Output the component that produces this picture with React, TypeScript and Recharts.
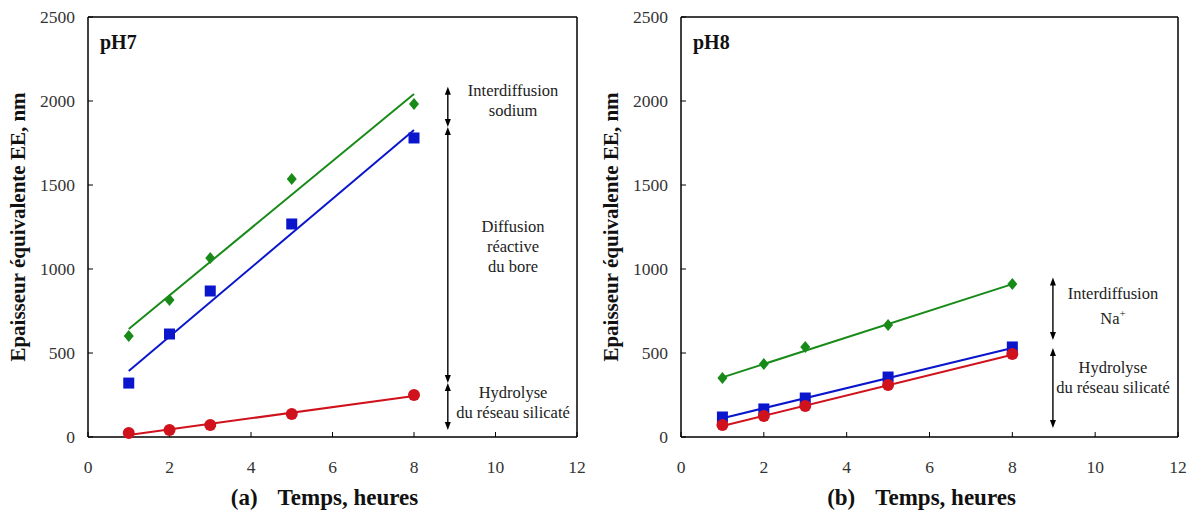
import { ComposedChart, Scatter, XAxis, YAxis, ReferenceLine } from "recharts";

// temps (heures)
const hours = [1, 2, 3, 5, 8];
const fitHours = [1, 8];

// pH7 — épaisseurs équivalentes (nm)
const ph7Na = [601, 815, 1065, 1536, 1982];
const ph7B = [321, 613, 869, 1268, 1780];
const ph7Si = [24, 42, 71, 137, 250];
const ph7FitNa = [643, 2042];
const ph7FitB = [393, 1827];
const ph7FitSi = [12, 244];

// pH8
const ph8Na = [351, 435, 536, 667, 911];
const ph8B = [119, 167, 232, 357, 536];
const ph8Si = [71, 125, 185, 310, 494];
const ph8FitNa = [355, 910];
const ph8FitB = [112, 530];
const ph8FitSi = [66, 490];

const xTicks = [0, 2, 4, 6, 8, 10, 12];
const yTicks = [0, 500, 1000, 1500, 2000, 2500];

// annotation arrows (x, top value, bottom value)
const ph7Arrows = [
  [8.83, 2085, 1845],
  [8.83, 1845, 321],
  [8.83, 321, 42],
];
const ph8Arrows = [
  [8.98, 950, 577],
  [8.98, 530, 54],
];

// annotation texts
const ph7Notes = [
  { x: 10.43, y: 2060, lines: ["Interdiffusion", "sodium"] },
  { x: 10.43, y: 1250, lines: ["Diffusion", "réactive", "du bore"] },
  { x: 10.43, y: 262, lines: ["Hydrolyse", "du réseau silicaté"] },
];
const ph8Notes = [
  { x: 10.43, y: 851, lines: ["Interdiffusion", "Na+"] },
  { x: 10.43, y: 410, lines: ["Hydrolyse", "du réseau silicaté"] },
];

const GREEN = "#188a18";
const BLUE = "#0a16cc";
const RED = "#d0121c";
const FONT = "'Liberation Serif', 'DejaVu Serif', serif";

const pts = (xs: number[], ys: number[]) => xs.map((x, i) => ({ x, y: ys[i] }));

const Diamond = (p: any) => (
  <path
    d={`M${p.cx},${p.cy - 6} L${p.cx + 5},${p.cy} L${p.cx},${p.cy + 6} L${p.cx - 5},${p.cy} Z`}
    fill={GREEN}
  />
);
const Square = (p: any) => (
  <rect x={p.cx - 5.5} y={p.cy - 5.5} width={11} height={11} fill={BLUE} />
);
const Circle = (p: any) => <circle cx={p.cx} cy={p.cy} r={6} fill={RED} />;
const Nothing = () => <g />;

const Note = (p: any) => {
  const { lines } = p.payload;
  return (
    <text x={p.cx} y={p.cy} textAnchor="middle" fontSize={16.5} fill="#222" fontFamily={FONT}>
      {lines.map((l: string, i: number) =>
        l === "Na+" ? (
          <tspan key={i} x={p.cx} dy={i === 0 ? 5 : 25}>
            Na<tspan dy={-7} fontSize={11}>+</tspan>
          </tspan>
        ) : (
          <tspan key={i} x={p.cx} dy={i === 0 ? 5 : 20}>
            {l}
          </tspan>
        )
      )}
    </text>
  );
};

const Arrow = (p: any) => {
  const { x1, y1, x2, y2 } = p;
  const top = Math.min(y1, y2);
  const bot = Math.max(y1, y2);
  return (
    <g>
      <line x1={x1} y1={top + 3} x2={x2} y2={bot - 3} stroke="#000" strokeWidth={1.4} />
      <path d={`M${x1},${top} L${x1 - 3},${top + 8} L${x1 + 3},${top + 8} Z`} fill="#000" />
      <path d={`M${x2},${bot} L${x2 - 3},${bot - 8} L${x2 + 3},${bot - 8} Z`} fill="#000" />
    </g>
  );
};

type PanelProps = {
  title: string;
  letter: string;
  na: number[];
  b: number[];
  si: number[];
  fitNa: number[];
  fitB: number[];
  fitSi: number[];
  arrows: number[][];
  notes: { x: number; y: number; lines: string[] }[];
  left: number;
  right: number;
};

function Panel(props: PanelProps) {
  const { title, letter, arrows, notes } = props;
  const tick = { fill: "#333", fontSize: 17.5, fontFamily: FONT };
  return (
    <ComposedChart
      width={598}
      height={512}
      margin={{ top: 17, right: props.right, bottom: 0, left: props.left }}
    >
      <XAxis
        type="number"
        dataKey="x"
        domain={[0, 12]}
        ticks={xTicks}
        tick={tick}
        tickSize={-5}
        tickMargin={29}
        height={75}
        axisLine={{ stroke: "#000", strokeWidth: 1.5 }}
        tickLine={{ stroke: "#000" }}
        label={{
          content: ({ viewBox }: any) => (
            <text
              x={viewBox.x + viewBox.width / 2 - 8}
              y={viewBox.y + 68}
              textAnchor="middle"
              fontSize={23}
              fontWeight="bold"
              fontFamily={FONT}
              fill="#111"
            >
              <tspan>{`(${letter})`}</tspan>
              <tspan dx={20}>Temps, heures</tspan>
            </text>
          ),
        }}
      />
      <YAxis
        type="number"
        dataKey="y"
        domain={[0, 2500]}
        ticks={yTicks}
        tick={tick}
        tickSize={-5}
        tickMargin={18}
        width={60}
        axisLine={{ stroke: "#000", strokeWidth: 1.5 }}
        tickLine={{ stroke: "#000" }}
        label={{
          content: ({ viewBox }: any) => {
            const cx = viewBox.x - 10;
            const cy = viewBox.y + viewBox.height / 2;
            return (
              <text
                x={cx}
                y={cy}
                transform={`rotate(-90, ${cx}, ${cy})`}
                textAnchor="middle"
                dominantBaseline="central"
                fontSize={21}
                fontWeight="bold"
                fontFamily={FONT}
                fill="#111"
              >
                Epaisseur équivalente EE, nm
              </text>
            );
          },
        }}
      />
      <ReferenceLine y={2500} stroke="#000" strokeWidth={1.5} />
      <ReferenceLine x={12} stroke="#000" strokeWidth={1.5} />
      <ReferenceLine
        y={2500}
        stroke="none"
        label={{
          content: ({ viewBox }: any) => (
            <text
              x={viewBox.x + 12}
              y={viewBox.y + 32}
              fontSize={20}
              fontWeight="bold"
              fontFamily={FONT}
              fill="#111"
            >
              {title}
            </text>
          ),
        }}
      />
      {arrows.map((a, i) => (
        <ReferenceLine
          key={i}
          segment={[
            { x: a[0], y: a[1] },
            { x: a[0], y: a[2] },
          ]}
          shape={Arrow}
        />
      ))}
      <Scatter data={pts(fitHours, props.fitNa)} line={{ stroke: GREEN, strokeWidth: 2 }} shape={Nothing} isAnimationActive={false} />
      <Scatter data={pts(fitHours, props.fitB)} line={{ stroke: BLUE, strokeWidth: 2 }} shape={Nothing} isAnimationActive={false} />
      <Scatter data={pts(fitHours, props.fitSi)} line={{ stroke: RED, strokeWidth: 2 }} shape={Nothing} isAnimationActive={false} />
      <Scatter data={pts(hours, props.na)} shape={Diamond} isAnimationActive={false} />
      <Scatter data={pts(hours, props.b)} shape={Square} isAnimationActive={false} />
      <Scatter data={pts(hours, props.si)} shape={Circle} isAnimationActive={false} />
      <Scatter data={notes} shape={Note} isAnimationActive={false} />
    </ComposedChart>
  );
}

export default function App() {
  return (
    <div
      style={{
        position: "absolute",
        left: 0,
        top: 0,
        width: 1196,
        height: 512,
        display: "flex",
        background: "#fff",
        fontFamily: FONT,
      }}
    >
      <Panel
        title="pH7"
        letter="a"
        na={ph7Na}
        b={ph7B}
        si={ph7Si}
        fitNa={ph7FitNa}
        fitB={ph7FitB}
        fitSi={ph7FitSi}
        arrows={ph7Arrows}
        notes={ph7Notes}
        left={28}
        right={21}
      />
      <Panel
        title="pH8"
        letter="b"
        na={ph8Na}
        b={ph8B}
        si={ph8Si}
        fitNa={ph8FitNa}
        fitB={ph8FitB}
        fitSi={ph8FitSi}
        arrows={ph8Arrows}
        notes={ph8Notes}
        left={23}
        right={18}
      />
    </div>
  );
}
